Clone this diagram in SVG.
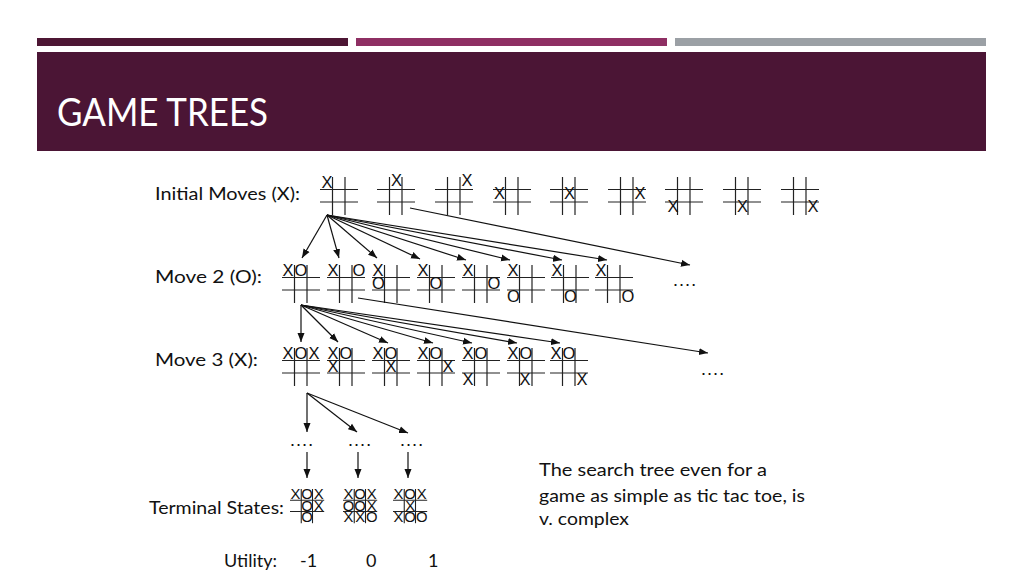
<svg xmlns="http://www.w3.org/2000/svg" xmlns:xlink="http://www.w3.org/1999/xlink" width="1024" height="576" viewBox="0 0 1024 576">
<style>
.lbl{font-family:Lato,"Liberation Sans",sans-serif;font-size:18px;fill:#111}
.mk{font-family:"Liberation Sans",Arial,sans-serif;font-size:16.5px;fill:#111;text-anchor:middle}
.dots{font-family:"Liberation Sans",Arial,sans-serif;font-size:19px;fill:#111}
.g line{stroke:#222;stroke-width:1.2}
.c line{stroke:#111;stroke-width:1.2}
</style>
<defs>
<marker id="ah" markerUnits="userSpaceOnUse" markerWidth="10" markerHeight="8" refX="9" refY="4" orient="auto">
<path d="M0,0.5 L9,4 L0,7.5 z" fill="#111"/>
</marker>
<g id="grid" class="g">
<line x1="0" y1="12.5" x2="38" y2="12.5"/>
<line x1="0" y1="25" x2="38" y2="25"/>
<line x1="12.5" y1="0" x2="12.5" y2="38"/>
<line x1="25" y1="0" x2="25" y2="38"/>
</g>
</defs>
<rect width="1024" height="576" fill="#fff"/>
<g id="header">
<rect x="37" y="38" width="311" height="8" fill="#4d1634"/>
<rect x="356" y="38" width="311" height="8" fill="#8e2f63"/>
<rect x="675" y="38" width="311" height="8" fill="#9ba0a5"/>
<rect x="37" y="52" width="949" height="99" fill="#4b1535"/>
<text x="57" y="126" font-family="Lato,'Liberation Sans',sans-serif" font-size="39" fill="#fff" textLength="211" lengthAdjust="spacingAndGlyphs">GAME TREES</text>
</g>
<g id="labels">
<text class="lbl" x="155" y="200" textLength="145" lengthAdjust="spacingAndGlyphs">Initial Moves (X):</text>
<text class="lbl" x="155" y="283" textLength="107" lengthAdjust="spacingAndGlyphs">Move 2 (O):</text>
<text class="lbl" x="155" y="366" textLength="103" lengthAdjust="spacingAndGlyphs">Move 3 (X):</text>
<text class="lbl" x="149" y="514" textLength="135" lengthAdjust="spacingAndGlyphs">Terminal States:</text>
<text class="lbl" x="224" y="567" font-size="16" textLength="53" lengthAdjust="spacingAndGlyphs">Utility:</text>
<text class="lbl" x="300" y="567" font-size="16">-1</text>
<text class="lbl" x="366" y="567" font-size="16">0</text>
<text class="lbl" x="428" y="567" font-size="16">1</text>
<text class="lbl" x="539" y="476" textLength="228" lengthAdjust="spacingAndGlyphs">The search tree even for a</text>
<text class="lbl" x="539" y="502" textLength="266" lengthAdjust="spacingAndGlyphs">game as simple as tic tac toe, is</text>
<text class="lbl" x="539" y="525" textLength="90" lengthAdjust="spacingAndGlyphs">v. complex</text>
</g>
<!-- Initial moves -->
<g id="i1" transform="translate(320,177)"><use xlink:href="#grid"/><text class="mk" x="7" y="11">X</text></g>
<g id="i2" transform="translate(377,177)"><use xlink:href="#grid"/><text class="mk" x="19.5" y="9">X</text></g>
<g id="i3" transform="translate(435,177)"><use xlink:href="#grid"/><text class="mk" x="32" y="9">X</text></g>
<g id="i4" transform="translate(493,177)"><use xlink:href="#grid"/><text class="mk" x="6.5" y="22">X</text></g>
<g id="i5" transform="translate(550,177)"><use xlink:href="#grid"/><text class="mk" x="19.5" y="22">X</text></g>
<g id="i6" transform="translate(608,177)"><use xlink:href="#grid"/><text class="mk" x="32" y="22">X</text></g>
<g id="i7" transform="translate(665,177)"><use xlink:href="#grid"/><text class="mk" x="8" y="35">X</text></g>
<g id="i8" transform="translate(723,177)"><use xlink:href="#grid"/><text class="mk" x="19.5" y="35">X</text></g>
<g id="i9" transform="translate(781,177)"><use xlink:href="#grid"/><text class="mk" x="32" y="35">X</text></g>
<!-- Move 2 -->
<g id="m2a" transform="translate(282,265)"><use xlink:href="#grid"/><text class="mk" x="6" y="11">X</text><text class="mk" x="19" y="11">O</text></g>
<g id="m2b" transform="translate(327,265)"><use xlink:href="#grid"/><text class="mk" x="6" y="11">X</text><text class="mk" x="32" y="11">O</text></g>
<g id="m2c" transform="translate(372,265)"><use xlink:href="#grid"/><text class="mk" x="6" y="11">X</text><text class="mk" x="6.5" y="24">O</text></g>
<g id="m2d" transform="translate(417,265)"><use xlink:href="#grid"/><text class="mk" x="6" y="11">X</text><text class="mk" x="19" y="24">O</text></g>
<g id="m2e" transform="translate(462,265)"><use xlink:href="#grid"/><text class="mk" x="6" y="11">X</text><text class="mk" x="32" y="24">O</text></g>
<g id="m2f" transform="translate(507,265)"><use xlink:href="#grid"/><text class="mk" x="6" y="11">X</text><text class="mk" x="6.5" y="37">O</text></g>
<g id="m2g" transform="translate(551,265)"><use xlink:href="#grid"/><text class="mk" x="6" y="11">X</text><text class="mk" x="19.5" y="37">O</text></g>
<g id="m2h" transform="translate(595,265)"><use xlink:href="#grid"/><text class="mk" x="6" y="11">X</text><text class="mk" x="33" y="37">O</text></g>
<text class="dots" x="672" y="286">….</text>
<!-- Move 3 -->
<g id="m3a" transform="translate(282,348)"><use xlink:href="#grid"/><text class="mk" x="6" y="11">X</text><text class="mk" x="19" y="11">O</text><text class="mk" x="32" y="11">X</text></g>
<g id="m3b" transform="translate(327,348)"><use xlink:href="#grid"/><text class="mk" x="6" y="11">X</text><text class="mk" x="19" y="11">O</text><text class="mk" x="6" y="24">X</text></g>
<g id="m3c" transform="translate(372,348)"><use xlink:href="#grid"/><text class="mk" x="6" y="11">X</text><text class="mk" x="19" y="11">O</text><text class="mk" x="19" y="24">X</text></g>
<g id="m3d" transform="translate(417,348)"><use xlink:href="#grid"/><text class="mk" x="6" y="11">X</text><text class="mk" x="19" y="11">O</text><text class="mk" x="31" y="24">X</text></g>
<g id="m3e" transform="translate(462,348)"><use xlink:href="#grid"/><text class="mk" x="6" y="11">X</text><text class="mk" x="19" y="11">O</text><text class="mk" x="6" y="37">X</text></g>
<g id="m3f" transform="translate(507,348)"><use xlink:href="#grid"/><text class="mk" x="6" y="11">X</text><text class="mk" x="19" y="11">O</text><text class="mk" x="18" y="37">X</text></g>
<g id="m3g" transform="translate(550,348)"><use xlink:href="#grid"/><text class="mk" x="6" y="11">X</text><text class="mk" x="19" y="11">O</text><text class="mk" x="32" y="37">X</text></g>
<text class="dots" x="700" y="375">….</text>
<!-- dots level -->
<text class="dots" x="289" y="446">….</text>
<text class="dots" x="347" y="446">….</text>
<text class="dots" x="399" y="446">….</text>
<!-- Terminal -->
<g id="t1" transform="translate(290,489) scale(0.9)"><use xlink:href="#grid"/><text class="mk" x="6" y="11">X</text><text class="mk" x="19" y="11">O</text><text class="mk" x="32" y="11">X</text><text class="mk" x="19" y="24">O</text><text class="mk" x="32" y="24">X</text><text class="mk" x="19" y="37">O</text></g>
<g id="t2" transform="translate(343,489) scale(0.9)"><use xlink:href="#grid"/><text class="mk" x="6" y="11">X</text><text class="mk" x="19" y="11">O</text><text class="mk" x="32" y="11">X</text><text class="mk" x="6" y="24">O</text><text class="mk" x="19" y="24">O</text><text class="mk" x="32" y="24">X</text><text class="mk" x="6" y="37">X</text><text class="mk" x="19" y="37">X</text><text class="mk" x="32" y="37">O</text></g>
<g id="t3" transform="translate(393,489) scale(0.9)"><use xlink:href="#grid"/><text class="mk" x="6" y="11">X</text><text class="mk" x="19" y="11">O</text><text class="mk" x="32" y="11">X</text><text class="mk" x="19" y="24">X</text><text class="mk" x="6" y="37">X</text><text class="mk" x="19" y="37">O</text><text class="mk" x="32" y="37">O</text></g>
<g id="connectors" class="c">
<line x1="327" y1="215" x2="302" y2="258" marker-end="url(#ah)"/>
<line x1="327" y1="215" x2="339" y2="258" marker-end="url(#ah)"/>
<line x1="327" y1="215" x2="377" y2="258" marker-end="url(#ah)"/>
<line x1="327" y1="215" x2="420" y2="259" marker-end="url(#ah)"/>
<line x1="327" y1="215" x2="466" y2="260" marker-end="url(#ah)"/>
<line x1="327" y1="215" x2="510" y2="260" marker-end="url(#ah)"/>
<line x1="327" y1="215" x2="562" y2="260" marker-end="url(#ah)"/>
<line x1="327" y1="215" x2="607" y2="260" marker-end="url(#ah)"/>
<line x1="410" y1="208" x2="690" y2="265" marker-end="url(#ah)"/>
<line x1="301" y1="305" x2="301" y2="342" marker-end="url(#ah)"/>
<line x1="301" y1="305" x2="338" y2="342" marker-end="url(#ah)"/>
<line x1="301" y1="305" x2="388" y2="343" marker-end="url(#ah)"/>
<line x1="301" y1="305" x2="433" y2="343" marker-end="url(#ah)"/>
<line x1="301" y1="305" x2="472" y2="343" marker-end="url(#ah)"/>
<line x1="301" y1="305" x2="517" y2="343" marker-end="url(#ah)"/>
<line x1="301" y1="305" x2="560" y2="343" marker-end="url(#ah)"/>
<line x1="358" y1="298" x2="708" y2="353" marker-end="url(#ah)"/>
<line x1="307" y1="393" x2="307" y2="432" marker-end="url(#ah)"/>
<line x1="307" y1="393" x2="357" y2="432" marker-end="url(#ah)"/>
<line x1="307" y1="393" x2="408" y2="433" marker-end="url(#ah)"/>
<line x1="307" y1="452" x2="307" y2="478" marker-end="url(#ah)"/>
<line x1="358" y1="452" x2="358" y2="478" marker-end="url(#ah)"/>
<line x1="408" y1="452" x2="408" y2="478" marker-end="url(#ah)"/>
</g>
</svg>
